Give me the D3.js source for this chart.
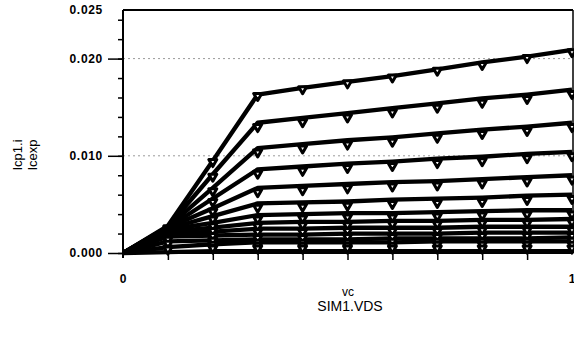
<!DOCTYPE html>
<html><head><meta charset="utf-8">
<script src="https://cdn.jsdelivr.net/npm/d3@7"></script>
<style>
html,body{margin:0;padding:0;background:#fff;}
svg{display:block;font-family:"Liberation Sans",Arial,sans-serif;}
</style></head>
<body><svg id="c" width="574" height="350"></svg>
<script>
// ---- data ----
const vds = [0, 0.1, 0.2, 0.3, 0.4, 0.5, 0.6, 0.7, 0.8, 0.9, 1.0];
const vdsExp = [0.1, 0.2, 0.3, 0.4, 0.5, 0.6, 0.7, 0.8, 0.9, 1.0];
const yTickLabels = ["0.000", "0.010", "0.020", "0.025"];
const yTickValues = [0, 0.010, 0.020, 0.025];
const xTickLabels = ["0", "1"];
const yTitle = ["Icp1.i", "Icexp"];
const xTitle = ["vc", "SIM1.VDS"];

// simulated Icp1.i (lines), one array per gate step
const icp1 = [
  [0, 0.0028, 0.0095, 0.0163, 0.0170, 0.0176, 0.0182, 0.0189, 0.0196, 0.0202, 0.0209],
  [0, 0.0027, 0.0081, 0.0134, 0.0139, 0.0144, 0.0149, 0.0154, 0.0159, 0.0163, 0.0168],
  [0, 0.0027, 0.0067, 0.0108, 0.0112, 0.0116, 0.0119, 0.0123, 0.0127, 0.0130, 0.0134],
  [0, 0.0026, 0.0056, 0.0086, 0.0089, 0.0092, 0.0094, 0.0097, 0.0099, 0.0102, 0.0104],
  [0, 0.0026, 0.0046, 0.0067, 0.0069, 0.0071, 0.0073, 0.0074, 0.0076, 0.0078, 0.0080],
  [0, 0.0025, 0.0038, 0.0051, 0.0052, 0.0053, 0.0055, 0.0056, 0.0057, 0.0059, 0.0060],
  [0, 0.0024, 0.0031, 0.0039, 0.0040, 0.0041, 0.0041, 0.0042, 0.0043, 0.0044, 0.0044],
  [0, 0.0022, 0.0026, 0.0031, 0.0032, 0.0032, 0.0033, 0.0033, 0.0034, 0.0034, 0.0035],
  [0, 0.0020, 0.0022, 0.0025, 0.0025, 0.0026, 0.0026, 0.0026, 0.0027, 0.0027, 0.0027],
  [0, 0.0017, 0.0018, 0.0019, 0.0019, 0.0020, 0.0020, 0.0020, 0.0021, 0.0021, 0.0021],
  [0, 0.0012, 0.0013, 0.0014, 0.0014, 0.0014, 0.0015, 0.0015, 0.0015, 0.0015, 0.0016],
  [0, 0.0006, 0.0009, 0.0011, 0.0011, 0.0011, 0.0011, 0.0012, 0.0012, 0.0012, 0.0012],
  [0, 0.0001, 0.0002, 0.0002, 0.0002, 0.0002, 0.0002, 0.0002, 0.0002, 0.0002, 0.0002]
];

// measured Icexp (triangle markers)
const icexp = [
  [0.0025, 0.0093, 0.0161, 0.0168, 0.0174, 0.0180, 0.0187, 0.0193, 0.0200, 0.0206],
  [0.0024, 0.0078, 0.0129, 0.0134, 0.0139, 0.0144, 0.0149, 0.0154, 0.0158, 0.0163],
  [0.0023, 0.0063, 0.0103, 0.0107, 0.0111, 0.0114, 0.0118, 0.0122, 0.0125, 0.0129],
  [0.0023, 0.0052, 0.0081, 0.0084, 0.0087, 0.0089, 0.0092, 0.0094, 0.0097, 0.0099],
  [0.0022, 0.0042, 0.0062, 0.0064, 0.0066, 0.0068, 0.0069, 0.0071, 0.0073, 0.0075],
  [0.0021, 0.0034, 0.0046, 0.0047, 0.0048, 0.0050, 0.0051, 0.0052, 0.0054, 0.0055],
  [0.0020, 0.0027, 0.0034, 0.0035, 0.0036, 0.0036, 0.0037, 0.0038, 0.0039, 0.0039],
  [0.0018, 0.0022, 0.0027, 0.0028, 0.0028, 0.0029, 0.0029, 0.0030, 0.0030, 0.0031],
  [0.0016, 0.0017, 0.0021, 0.0021, 0.0022, 0.0022, 0.0022, 0.0023, 0.0023, 0.0023],
  [0.0013, 0.0012, 0.0015, 0.0015, 0.0016, 0.0016, 0.0016, 0.0017, 0.0017, 0.0017],
  [0.0009, 0.0008, 0.0010, 0.0010, 0.0010, 0.0011, 0.0011, 0.0011, 0.0011, 0.0012],
  [0.0004, 0.0005, 0.0007, 0.0007, 0.0007, 0.0007, 0.0008, 0.0008, 0.0008, 0.0008],
  [0.0003, 0.0004, 0.0004, 0.0004, 0.0004, 0.0004, 0.0004, 0.0004, 0.0004, 0.0004]
];

// ---- layout ----
const L = 123, R = 572, T = 10, B = 253;
const svg = d3.select("#c");
const x = d3.scaleLinear().domain([0, 1]).range([L, R]);
const y = d3.scaleLinear().domain([0, 0.025]).range([B, T]);

// dotted gridlines
svg.append("g").selectAll("line").data([0.010, 0.020]).join("line")
  .attr("x1", L).attr("x2", R).attr("y1", d => y(d)).attr("y2", d => y(d))
  .attr("stroke", "#9a9a9a").attr("stroke-width", 1).attr("stroke-dasharray", "2,3");

// frame top / right
svg.append("line").attr("x1", L).attr("x2", R + 1).attr("y1", T).attr("y2", T)
  .attr("stroke", "#000").attr("stroke-width", 2);
svg.append("line").attr("x1", R + 1).attr("x2", R + 1).attr("y1", T).attr("y2", B)
  .attr("stroke", "#000").attr("stroke-width", 1.5);

// y axis: minor ticks every 0.002, major at 0.010
const yMinor = d3.axisLeft(y).tickValues(d3.range(0, 0.0249, 0.002)).tickSize(5).tickFormat("");
const gyMinor = svg.append("g").attr("transform", `translate(${L},0)`).call(yMinor);
gyMinor.select(".domain").remove();
gyMinor.selectAll("line").attr("stroke", "#000").attr("stroke-width", 1.5);

const yMajor = d3.axisLeft(y).tickValues([0, 0.010, 0.020]).tickSize(15).tickFormat("");
const gyMajor = svg.append("g").attr("transform", `translate(${L},0)`).call(yMajor);
gyMajor.select(".domain").remove();
gyMajor.selectAll("line").attr("stroke", "#000").attr("stroke-width", 1.5);

// y tick labels
svg.append("g").selectAll("text").data(yTickValues).join("text")
  .attr("x", 103).attr("y", d => y(d) + 4)
  .attr("text-anchor", "end").attr("font-size", 12).attr("font-weight", "bold")
  .attr("letter-spacing", 0.7)
  .text((d, i) => yTickLabels[i]);

// x axis ticks
const xAx = d3.axisBottom(x).tickValues(d3.range(1, 10).map(k => k / 10)).tickSize(7).tickFormat("");
const gx = svg.append("g").attr("transform", `translate(0,${B})`).call(xAx);
gx.select(".domain").remove();
gx.selectAll("line").attr("stroke", "#000").attr("stroke-width", 1.5);

// axis lines
svg.append("line").attr("x1", L).attr("x2", L).attr("y1", T).attr("y2", B + 5)
  .attr("stroke", "#000").attr("stroke-width", 2);
svg.append("line").attr("x1", L).attr("x2", R + 1).attr("y1", B).attr("y2", B)
  .attr("stroke", "#000").attr("stroke-width", 2);

// x tick labels
svg.append("g").selectAll("text").data([0, 1]).join("text")
  .attr("x", d => x(d)).attr("y", 283)
  .attr("text-anchor", "middle").attr("font-size", 12).attr("font-weight", "bold")
  .text((d, i) => xTickLabels[i]);

// simulated lines
const line = d3.line().x((d, i) => x(vds[i])).y(d => y(d));
svg.append("g").selectAll("path").data(icp1).join("path")
  .attr("d", line).attr("fill", "none").attr("stroke", "#000")
  .attr("stroke-width", 4.3).attr("stroke-linejoin", "round");

// measured markers: inverted triangles
const tri = "M-4,-3L4,-3L0,4Z";
const pts = [];
icexp.forEach(s => s.forEach((v, i) => pts.push([vdsExp[i], v])));
svg.append("g").selectAll("path").data(pts).join("path")
  .attr("d", tri)
  .attr("transform", d => `translate(${x(d[0])},${y(d[1])})`)
  .attr("fill", "#fff").attr("stroke", "#000").attr("stroke-width", 3)
  .attr("stroke-linejoin", "round");

// titles
svg.append("text").attr("transform", "translate(22,155) rotate(-90)")
  .attr("text-anchor", "middle").attr("font-size", 13).text(yTitle[0]);
svg.append("text").attr("transform", "translate(37,155) rotate(-90)")
  .attr("text-anchor", "middle").attr("font-size", 13).text(yTitle[1]);
svg.append("text").attr("x", 348).attr("y", 296)
  .attr("text-anchor", "middle").attr("font-size", 12).text(xTitle[0]);
svg.append("text").attr("x", 350).attr("y", 311)
  .attr("text-anchor", "middle").attr("font-size", 14).text(xTitle[1]);
</script></body></html>
